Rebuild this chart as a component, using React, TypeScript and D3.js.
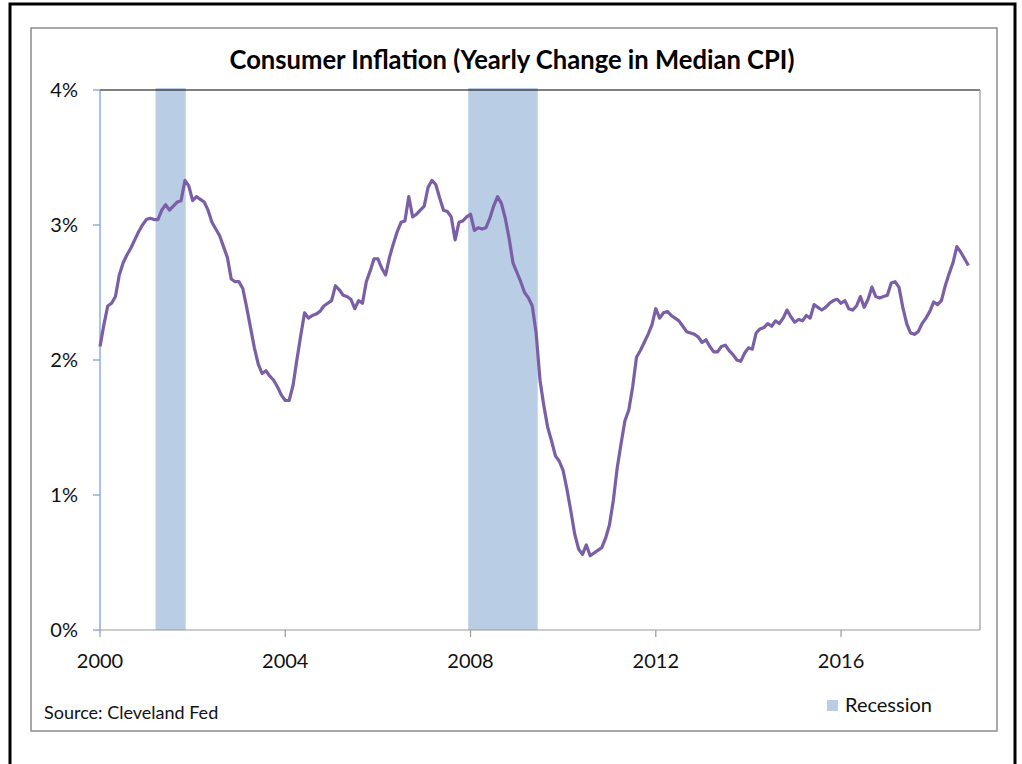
import React from "react";
import * as d3 from "d3";

const startYear = 2000;
const endYear = 2019;
const xTickYears = [2000, 2004, 2008, 2012, 2016];
const yTicks = [0, 1, 2, 3, 4];
const recessions: [number, number][] = [
  [2001.2, 2001.85],
  [2007.95, 2009.45],
];
// Monthly median CPI yearly change (%), Jan 2000 onwards
const medianCpi = [
  // 2000
  2.1, 2.26, 2.4, 2.42, 2.47, 2.63, 2.72, 2.78, 2.83, 2.89, 2.95, 3.0,
  // 2001
  3.04, 3.05, 3.04, 3.04, 3.11, 3.15, 3.11, 3.14, 3.17, 3.18, 3.33, 3.29,
  // 2002
  3.18, 3.21, 3.19, 3.17, 3.11, 3.02, 2.97, 2.92, 2.84, 2.76, 2.6, 2.58,
  // 2003
  2.58, 2.53, 2.39, 2.24, 2.09, 1.97, 1.9, 1.92, 1.88, 1.85, 1.8, 1.74,
  // 2004
  1.7, 1.7, 1.81, 2.0, 2.18, 2.35, 2.31, 2.33, 2.34, 2.36, 2.4, 2.42,
  // 2005
  2.44, 2.55, 2.52, 2.48, 2.47, 2.45, 2.38, 2.44, 2.42, 2.58, 2.66, 2.75,
  // 2006
  2.75, 2.68, 2.63, 2.76, 2.86, 2.95, 3.02, 3.03, 3.21, 3.06, 3.08, 3.11,
  // 2007
  3.14, 3.28, 3.33, 3.3, 3.2, 3.11, 3.1, 3.06, 2.89, 3.02, 3.03, 3.06,
  // 2008
  3.08, 2.96, 2.98, 2.97, 2.98, 3.05, 3.14, 3.21, 3.16, 3.05, 2.9, 2.72,
  // 2009
  2.65, 2.58, 2.5, 2.46, 2.4, 2.2, 1.85, 1.66, 1.5, 1.4, 1.29, 1.25,
  // 2010
  1.18, 1.04, 0.88, 0.71, 0.6, 0.56, 0.63, 0.55, 0.57, 0.59, 0.61, 0.68,
  // 2011
  0.78, 0.96, 1.2, 1.38, 1.55, 1.63, 1.8, 2.02, 2.07, 2.13, 2.19, 2.26,
  // 2012
  2.38, 2.31, 2.35, 2.36, 2.33, 2.31, 2.29, 2.25, 2.21, 2.2, 2.19, 2.17,
  // 2013
  2.13, 2.15, 2.1, 2.06, 2.06, 2.1, 2.11, 2.07, 2.04, 2.0, 1.99, 2.05,
  // 2014
  2.09, 2.08, 2.2, 2.23, 2.24, 2.27, 2.25, 2.29, 2.27, 2.31, 2.37, 2.32,
  // 2015
  2.28, 2.3, 2.29, 2.33, 2.31, 2.41, 2.39, 2.37, 2.39, 2.42, 2.44, 2.45,
  // 2016
  2.42, 2.44, 2.38, 2.37, 2.4, 2.47, 2.39, 2.45, 2.54, 2.47, 2.46, 2.47,
  // 2017
  2.48, 2.57, 2.58, 2.54, 2.39, 2.27, 2.2, 2.19, 2.21, 2.27, 2.31, 2.36,
  // 2018
  2.43, 2.41, 2.44, 2.55, 2.64, 2.72, 2.84, 2.8, 2.75, 2.7,
];

const FONT = "Lato, 'Open Sans', sans-serif";

export default function App() {
  const left = 100, right = 980, top = 90, bottom = 630;
  const x = d3.scaleLinear().domain([startYear, endYear]).range([left, right]);
  const y = d3.scaleLinear().domain([0, 4]).range([bottom, top]);
  const pts = medianCpi.map((v, i) => [startYear + i / 12, v] as [number, number]);
  const line = d3
    .line<[number, number]>()
    .x((d) => x(d[0]))
    .y((d) => y(d[1]));

  return (
    <svg
      width={1022}
      height={764}
      style={{ position: "absolute", left: 0, top: 0, background: "#fff" }}
    >
      <rect x={0} y={0} width={1022} height={764} fill="#fff" />
      <rect x={10} y={4} width={1005} height={790} fill="none" stroke="#000" strokeWidth={3} />
      <rect x={31} y={28} width={966} height={703} fill="none" stroke="#8c8c8c" strokeWidth={1.5} />
      <text
        x={512}
        y={69}
        textAnchor="middle"
        fontFamily={FONT}
        fontWeight="bold"
        fontSize={26}
        textLength={565}
        lengthAdjust="spacingAndGlyphs"
        fill="#000"
      >
        Consumer Inflation (Yearly Change in Median CPI)
      </text>
      {recessions.map(([a, b], i) => (
        <rect key={i} x={x(a)} y={top - 2} width={x(b) - x(a)} height={bottom - top + 2} fill="#b9cde5" />
      ))}
      {/* plot borders */}
      <line x1={left} x2={right} y1={top} y2={top} stroke="#000" strokeWidth={1.2} />
      <line x1={right} x2={right} y1={top} y2={bottom} stroke="#999" strokeWidth={1.2} />
      <line x1={left} x2={right} y1={bottom} y2={bottom} stroke="#999" strokeWidth={1.2} />
      {xTickYears.map((t) => (
        <g key={t}>
          <line x1={x(t)} x2={x(t)} y1={bottom} y2={bottom + 7} stroke="#999" strokeWidth={1.2} />
          <text x={x(t)} y={668} textAnchor="middle" fontFamily={FONT} fontSize={20} fill="#111">
            {t}
          </text>
        </g>
      ))}
      <line x1={left} x2={left} y1={top} y2={bottom} stroke="#6f9bd8" strokeWidth={1.2} />
      {yTicks.map((t) => (
        <g key={t}>
          <line x1={left - 7} x2={left} y1={y(t)} y2={y(t)} stroke="#6f9bd8" strokeWidth={1.2} />
          <text x={78} y={y(t) + 7} textAnchor="end" fontFamily={FONT} fontSize={20} fill="#111">
            {t}%
          </text>
        </g>
      ))}
      <path d={line(pts) || ""} fill="none" stroke="#7b5fa6" strokeWidth={3.2} strokeLinejoin="round" />
      <text x={44} y={719} fontFamily={FONT} fontSize={18} fill="#111">
        Source: Cleveland Fed
      </text>
      <rect x={827} y={700} width={11} height={11} fill="#b9cde5" />
      <text x={845} y={712} fontFamily={FONT} fontSize={20} fill="#111">
        Recession
      </text>
    </svg>
  );
}
